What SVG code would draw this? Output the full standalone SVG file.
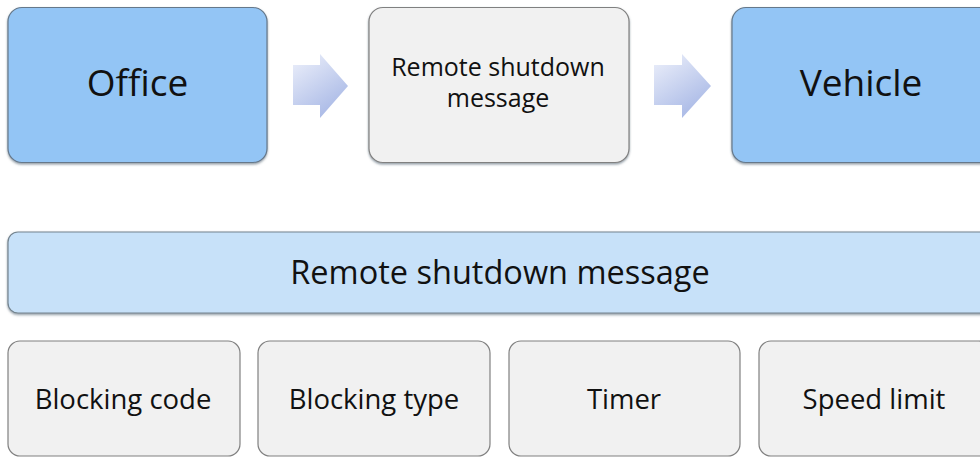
<svg xmlns="http://www.w3.org/2000/svg" width="980" height="457" viewBox="0 0 980 457">
<defs>
<linearGradient id="arrowGrad" x1="0" y1="0" x2="0.6" y2="1">
<stop offset="0" stop-color="#eef1fb"/>
<stop offset="1" stop-color="#a9b9e6"/>
</linearGradient>
<filter id="sh" x="-5%" y="-5%" width="110%" height="115%">
<feDropShadow dx="0" dy="1.5" stdDeviation="0.8" flood-color="#4a5a6a" flood-opacity="0.6"/>
</filter>
<style>
.blue{fill:#93c5f5;stroke:#66788a;stroke-width:1.2;}
.grey{fill:#f1f1f1;stroke:#808080;stroke-width:1.2;}
.bar{fill:#c7e1f9;stroke:#74848f;stroke-width:1.2;}
.arrow{fill:url(#arrowGrad);}
text{font-family:"Open Sans","Noto Sans",sans-serif;fill:#111;text-anchor:middle;}
.big{font-size:37px;}
.mid{font-size:25px;}
.barT{font-size:32.5px;}
.small{font-size:27.5px;}
</style>
</defs>
<g id="connectors">
<path class="arrow" d="M293,65 L320,65 L320,54 L348,86 L320,118 L320,105 L293,105 Z"/>
<path class="arrow" d="M654,65 L682,65 L682,54 L711,86 L682,118 L682,105 L654,105 Z"/>
</g>
<g id="office">
<rect class="blue" x="8" y="7.5" width="259" height="155" rx="14" filter="url(#sh)"/>
<text class="big" x="137.5" y="96">Office</text>
</g>
<g id="message-top">
<rect class="grey" x="369" y="7.5" width="260" height="155" rx="14" filter="url(#sh)"/>
<text class="mid" x="498" y="76">Remote shutdown</text>
<text class="mid" x="498" y="107">message</text>
</g>
<g id="vehicle">
<rect class="blue" x="732" y="7.5" width="262" height="155" rx="14" filter="url(#sh)"/>
<text class="big" x="861" y="96">Vehicle</text>
</g>
<g id="message-bar">
<rect class="bar" x="8" y="232" width="990" height="81" rx="10" filter="url(#sh)"/>
<text class="barT" x="500" y="284">Remote shutdown message</text>
</g>
<g id="blocking-code">
<rect class="grey" x="8" y="341" width="232" height="115" rx="12"/>
<text class="small" x="123" y="409">Blocking code</text>
</g>
<g id="blocking-type">
<rect class="grey" x="258" y="341" width="232" height="115" rx="12"/>
<text class="small" x="374" y="409">Blocking type</text>
</g>
<g id="timer">
<rect class="grey" x="509" y="341" width="231" height="115" rx="12"/>
<text class="small" x="624" y="409">Timer</text>
</g>
<g id="speed-limit">
<rect class="grey" x="759" y="341" width="232" height="115" rx="12"/>
<text class="small" x="874" y="409">Speed limit</text>
</g>
</svg>
